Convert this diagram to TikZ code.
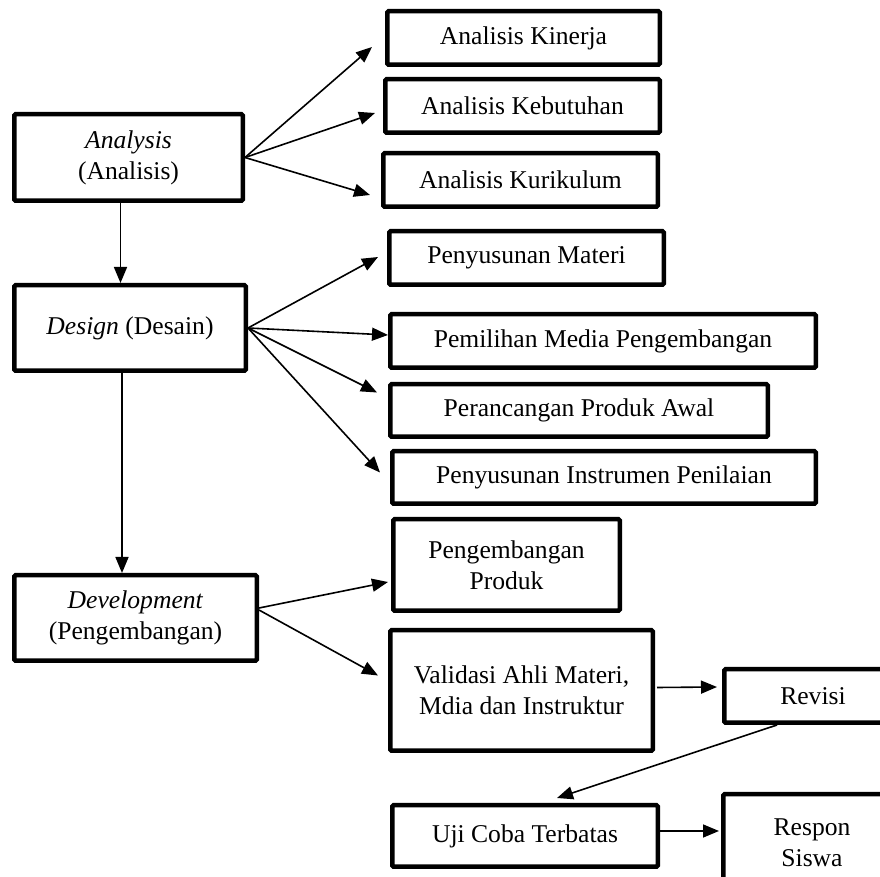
\documentclass[tikz,border=0pt]{standalone}
\usepackage{fontspec}
\setmainfont{Liberation Serif}
\usetikzlibrary{arrows.meta}

\tikzset{
  box/.style={draw, line width=2.25pt, rounded corners=0.6pt, align=center,
    inner sep=0pt, font=\fontsize{12.8}{15.5}\selectfont},
  sz/.style 2 args={minimum width=#1*0.5pt, minimum height=#2*0.5pt},
  arr/.style={line width=0.8pt, -{Triangle[length=8pt,width=6.5pt]}}
}

\begin{document}
\begin{tikzpicture}[x=0.5pt,y=-0.5pt]
            \useasboundingbox (0,0) rectangle (880,877);
            % tahapan utama
            \node[box, sz={228.5}{86.5}] (ana) at (128.5,157.5) {\textit{Analysis}\\(Analisis)};
            \node[box, sz={231.5}{85.5}] (des) at (130,328) {\textit{Design} (Desain)};
            \node[box, sz={242.5}{85.5}] (dev) at (135.5,618) {\textit{Development}\\(Pengembangan)};
            % analisis
            \node[box, sz={272.5}{53.5}] (kin) at (523.5,38) {Analisis Kinerja};
            \node[box, sz={274.5}{53.5}] (keb) at (522.5,106) {Analisis Kebutuhan};
            \node[box, sz={274.5}{53.5}] (kur) at (520.5,180) {Analisis Kurikulum};
            % desain
            \node[box, sz={274.5}{53.5}] (mat) at (526.5,258) {Penyusunan Materi};
            \node[box, sz={425.5}{53.5}] (med) at (603,341) {Pemilihan Media Pengembangan};
            \node[box, sz={377.5}{52.5}] (awal) at (579,410.5) {Perancangan Produk Awal};
            \node[box, sz={423.5}{52.5}] (ins) at (604,477.5) {Penyusunan Instrumen Penilaian};
            % pengembangan
            \node[box, sz={226.5}{91.5}] (prod) at (506.5,565) {Pengembangan\\Produk};
            \node[box, sz={262.5}{120.5}] (val) at (521.5,690.5) {Validasi Ahli Materi,\\Mdia dan Instruktur};
            \node[box, sz={177.5}{53.5}] (rev) at (813,696) {Revisi};
            \node[box, sz={265.5}{61.5}] (uji) at (525,836) {Uji Coba Terbatas};
            \node[box, sz={177.5}{97.5}] (res) at (812,843) {Respon\\Siswa};

            \draw[arr] ([shift={(-8,0)}]ana.south) -- ([shift={(-8,0)}]ana.south |- des.north);
            \draw[arr] ([shift={(-8,0)}]des.south) -- ([shift={(-8,0)}]des.south |- dev.north);

            \draw[arr] (ana.east) -- ([shift={(-13,9)}]kin.west);
            \draw[arr] (ana.east) -- ([shift={(-8,7)}]keb.west);
            \draw[arr] (ana.east) -- ([shift={(-11,15)}]kur.west);

            \draw[arr] (des.east) -- ([shift={(-9,-1)}]mat.west);
            \draw[arr] (des.east) -- ([shift={(0,-6)}]med.west);
            \draw[arr] (des.east) -- ([shift={(-11,-18)}]awal.west);
            \draw[arr] (des.east) -- ([shift={(-10,-5)}]ins.west);

            \draw[arr] ([shift={(0,-10)}]dev.east) -- ([shift={(-3,17)}]prod.west);
            \draw[arr] ([shift={(0,-8)}]dev.east) -- ([shift={(-10,-15)}]val.west);

            \draw[arr] ([shift={(2,-3)}]val.east) -- ([shift={(-5,-9)}]rev.west);
            \draw[arr] ([shift={(-36,0)}]rev.south) -- ([shift={(32,-5)}]uji.north);
            \draw[arr] ([shift={(0,-5)}]uji.east) -- ([shift={(-2,-12)}]res.west);
\end{tikzpicture}
\end{document}
